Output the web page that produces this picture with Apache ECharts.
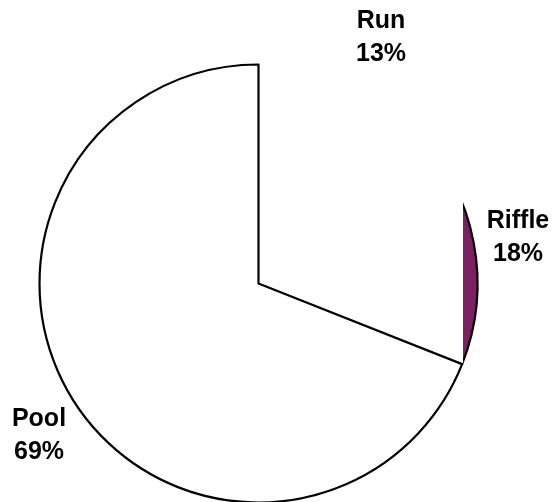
<!DOCTYPE html>
<html>
<head>
<meta charset="utf-8">
<script src="https://cdn.jsdelivr.net/npm/echarts@6/dist/echarts.min.js"></script>
<style>
  html, body { margin: 0; padding: 0; background: #fff; }
  #chart { width: 555px; height: 502px; }
</style>
</head>
<body>
<div id="chart"></div>
<script>
// Habitat composition
const categories = ['Run', 'Riffle', 'Pool'];
const shares = [13, 18, 69];

const CENTER = [258.5, 283.5];
const RADIUS = 219;
const labelSpots = [[381, 38], [518, 238], [39, 436]];

const chart = echarts.init(document.getElementById('chart'), null, { renderer: 'canvas' });

// Back layer: only the Riffle sector is filled
const backData = categories.map((name, i) => ({
  name,
  value: shares[i],
  itemStyle: name === 'Riffle'
    ? { color: '#7c2062', borderColor: '#000', borderWidth: 2.2 }
    : { color: 'rgba(0,0,0,0)', borderWidth: 0 }
}));

// Front layer: Pool sector outlined in black, the rest transparent
const frontData = categories.map((name, i) => ({
  name,
  value: shares[i],
  itemStyle: name === 'Pool'
    ? { color: '#fff', borderColor: '#000', borderWidth: 2.2 }
    : { color: 'rgba(0,0,0,0)', borderWidth: 0 }
}));

chart.setOption({
  animation: false,
  backgroundColor: '#fff',
  graphic: [{
    type: 'rect',
    z: 2,
    silent: true,
    shape: { x: 0, y: 0, width: 463, height: 502 },
    style: { fill: '#fff' }
  }],
  series: [
    {
      type: 'pie',
      z: 1,
      silent: true,
      center: CENTER,
      radius: [0, RADIUS],
      startAngle: 90,
      clockwise: true,
      label: { show: false },
      labelLine: { show: false },
      data: backData
    },
    {
      type: 'pie',
      z: 3,
      silent: true,
      center: CENTER,
      radius: [0, RADIUS],
      startAngle: 90,
      clockwise: true,
      percentPrecision: 0,
      avoidLabelOverlap: false,
      label: {
        show: true,
        position: 'outside',
        formatter: '{b}\n{d}%',
        color: '#000',
        fontFamily: 'Liberation Sans, Arial, sans-serif',
        fontWeight: 'bold',
        fontSize: 25,
        lineHeight: 33,
        align: 'center'
      },
      labelLine: { show: false },
      labelLayout: function (p) {
        const s = labelSpots[p.dataIndex];
        return { x: s[0], y: s[1], align: 'center', verticalAlign: 'middle' };
      },
      data: frontData
    }
  ]
});
</script>
</body>
</html>
